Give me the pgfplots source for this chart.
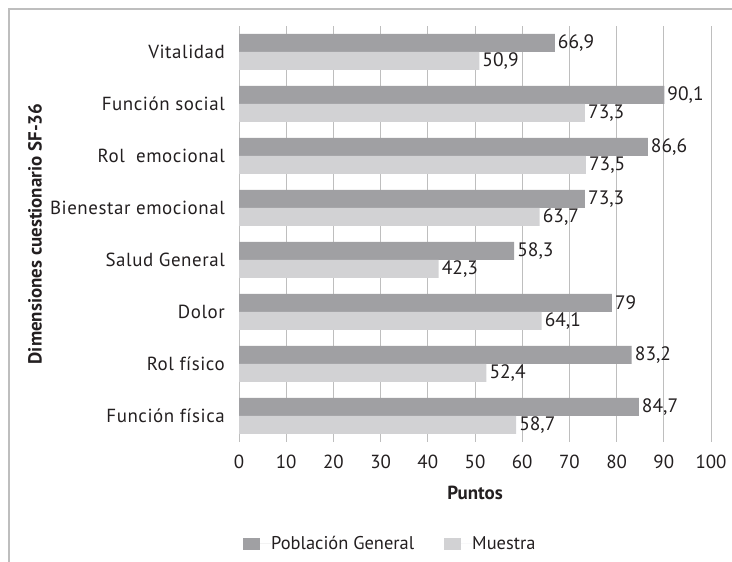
\documentclass[border=0pt]{standalone}
\usepackage{pgfplots}
\pgfplotsset{compat=1.18}
\usepackage{fontspec}
\setmainfont{PT Sans}
\newfontfamily\catfont{PT Sans}[LetterSpace=3]
\definecolor{darkbar}{RGB}{160,160,163}
\definecolor{lightbar}{RGB}{210,210,212}
\definecolor{gridc}{RGB}{190,190,190}
\definecolor{txt}{RGB}{35,31,32}
\begin{document}
\begin{tikzpicture}[x=1bp,y=1bp]
\useasboundingbox (0,0) rectangle (732,562);
\draw[gridc, line width=1.5bp] (9,0) -- (9,553) -- (732,553);
\begin{axis}[
  at={(239bp,120bp)}, anchor=south west,
  scale only axis, width=472bp, height=416bp,
  xbar, bar width=18bp,
  xmin=0, xmax=100, ymin=-0.5, ymax=7.5,
  xtick={0,10,...,100}, ytick={0,...,7},
  yticklabels={Función física, Rol físico, Dolor, Salud General, Bienestar emocional, Rol\ \ emocional, Función social, Vitalidad},
  xmajorgrids, grid style={gridc, line width=1bp},
  axis lines*=left,
  x axis line style={draw=none},
  y axis line style={gridc, line width=1bp, -},
  major tick length=0pt,
  font=\fontsize{19}{22}\selectfont,
  every tick label/.append style={text=txt},
  /pgf/number format/assume math mode=true,
  /pgf/number format/use comma,
  y tick label style={inner sep=0pt, xshift=-14bp, anchor=east, font=\catfont\fontsize{19}{22}\selectfont},
  x tick label style={inner sep=0pt, yshift=-13bp, anchor=north},
  xlabel={\textbf{Puntos}},
  ylabel={\textbf{Dimensiones cuestionario SF-36}},
  xlabel style={at={(axis description cs:0.5,-0.123)}, anchor=center, text=txt},
  ylabel style={at={(axis description cs:-0.432,0.5)}, anchor=center, text=txt},
  nodes near coords,
  nodes near coords style={anchor=west, inner sep=3bp, text=txt, font=\fontsize{19.5}{22}\selectfont},
  legend style={at={(axis description cs:0.0085,-0.245)}, anchor=west, draw=none, fill=none, inner sep=0pt,
     legend columns=2, /tikz/every even column/.append style={column sep=30bp},
     nodes={inner sep=0pt, text=txt},
     font=\fontsize{18.5}{22}\selectfont},
  legend image code/.code={\fill[#1] (0bp,-6bp) rectangle (17bp,6bp); \path (0,0) -- (28bp,0);},
]
\addplot[fill=darkbar, draw=none, bar shift=9bp] coordinates {(84.7,0) (83.2,1) (79,2) (58.3,3) (73.3,4) (86.6,5) (90.1,6) (66.9,7)};
\addplot[fill=lightbar, draw=none, bar shift=-9bp] coordinates {(58.7,0) (52.4,1) (64.1,2) (42.3,3) (63.7,4) (73.5,5) (73.3,6) (50.9,7)};
\legend{Población General, Muestra}
\end{axis}
\end{tikzpicture}
\end{document}
